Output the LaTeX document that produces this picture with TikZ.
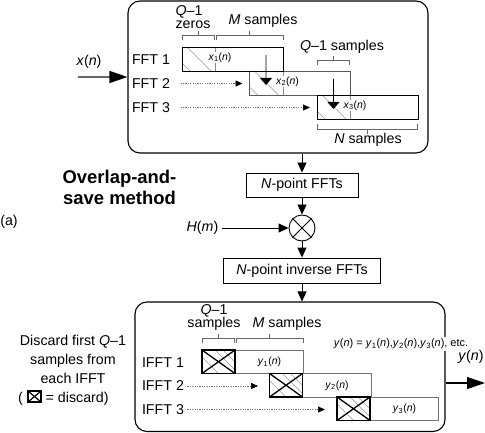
\documentclass[tikz,border=0pt]{standalone}
\usepackage{fontspec}
\setmainfont{Liberation Sans}
\usetikzlibrary{arrows.meta}
\newcommand{\sig}[2]{\textit{#1}\textsubscript{#2}(\textit{n})}

\begin{document}
\begin{tikzpicture}[
  x=1bp, y=-1bp,
  every node/.style={font=\fontsize{14.3}{16}\selectfont},
  panel/.style={draw, line width=1.1bp, rounded corners=12bp, inner sep=0pt},
  stage/.style={draw, line width=0.9bp, inner sep=0pt, minimum height=24bp},
  block/.style={draw, line width=0.9bp, inner sep=0pt, outer sep=0pt,
    minimum width=101bp, minimum height=24bp},
  discard/.style={draw, line width=1.3bp, inner sep=0pt, outer sep=0pt,
    minimum width=33bp, minimum height=23.5bp},
  tag/.style={font=\fontsize{10.5}{12}\selectfont, fill=white, inner sep=0.6bp},
  hatch/.style={black!40, line width=0.5bp},
  bracket/.style={black!60, line width=0.8bp},
  flow/.style={-{Triangle[length=10bp,width=9bp]}, line width=0.9bp},
  bigflow/.style={-{Triangle[length=18bp,width=12bp,color=black]}, line width=1.1bp},
  drop/.style={-{Triangle[length=7bp,width=12bp]}, line width=0.9bp},
  feed/.style={black!55, line width=0.7bp, dash pattern=on 1.2bp off 1.2bp,
    -{Triangle[length=7bp,width=6bp,color=black]}}
]
\useasboundingbox (0,0) rectangle (485,433);

% the two panels
\node[panel, minimum width=300bp, minimum height=152bp] (analysis) at (278,77) {};
\node[panel, minimum width=310bp, minimum height=129.5bp] (synth) at (290,366.75) {};

% input
\coordinate (xin) at (78,77);
\node (xlabel) at (89,62) {\textit{x}(\textit{n})};
\draw[bigflow, black!60] (xin) -- (analysis.west);

% overlapping FFT blocks
\foreach \i/\px/\py/\col in {2/249.5/71/black!65, 1/182/47/black, 3/317/95/black} {
  \node[anchor=west] (flab\i) at (128.5,\py+12.5) {FFT \i};
  \begin{scope}
    \clip (\px,\py) rectangle ++(33.5,24);
    \draw[hatch] (\px+5,\py) -- ++(30,30) (\px-16,\py) -- ++(30,30);
  \end{scope}
  \draw[black!45, line width=0.6bp] (\px+33.5,\py) -- ++(0,24);
  \node[block, draw=\col, anchor=north west] (blk\i) at (\px,\py) {};
  \node[tag] (x\i) at (\px+38,\py+10.5) {\sig{x}{\i}};
}
\draw[feed, shorten <=7bp, shorten >=7bp] (flab2.east) -- (flab2.east -| blk2.west);
\draw[feed, shorten <=7bp, shorten >=7bp] (flab3.east) -- (flab3.east -| blk3.west);
\draw[drop] ([xshift=33.5bp,yshift=4bp]blk1.center) -- ([xshift=-34bp,yshift=-2bp]blk2.center);
\draw[drop] ([xshift=33.5bp,yshift=4bp]blk2.center) -- ([xshift=-34bp,yshift=-2bp]blk3.center);

% brackets
\foreach \a/\b/\y in {182.5/214/35, 216/283/35, 317/349.5/60, 202/234/338, 236/303.5/338}
  \draw[bracket] (\a,\y+5) -- (\a,\y) -- (\b,\y) -- (\b,\y+5) ({(\a+\b)/2},\y) -- ++(0,-4);
\draw[bracket] (317.5,124) -- (317.5,129) -- (417.5,129) -- (417.5,124) (367.5,129) -- ++(0,5);
\node[anchor=base] (qzeros) at (189,15.3) {\textit{Q}--1};
\node[anchor=base] (zeros) at (193,28.5) {zeros};
\node[anchor=base] (msamp) at (263,25) {\textit{M} samples};
\node[anchor=base] (qsamp) at (342,50.5) {\textit{Q}--1 samples};
\node[anchor=base] (nsamp) at (368,143.5) {\textit{N} samples};
\node[anchor=base] (qsamp2) at (214,314.3) {\textit{Q}--1};
\node[anchor=base] (samp2) at (214,327.5) {samples};
\node[anchor=base] (msamp2) at (287,327.5) {\textit{M} samples};

% FFT, multiply, inverse FFT
\node[stage, minimum width=112bp] (fft) at (302,185) {\textit{N}-point FFTs};
\draw[flow] (fft.north |- analysis.south) -- (fft.north);
\node[circle, draw, line width=0.9bp, minimum size=26bp, inner sep=0pt] (mult) at (302,228) {};
\draw[line width=0.9bp] (mult.north west) -- (mult.south east) (mult.north east) -- (mult.south west);
\draw[flow] (fft) -- (mult);
\node (hlabel) at (202.5,228) {\textit{H}(\textit{m})};
\draw[flow] (hlabel) -- (mult);
\node[stage, minimum width=157bp, minimum height=25bp] (ifft) at (302,270.5) {\textit{N}-point inverse FFTs};
\draw[flow] (mult) -- (ifft);
\draw[flow] (ifft.south) -- (ifft.south |- synth.north);

% captions on the left
\node[font=\fontsize{18.5}{21}\selectfont\bfseries, align=center] (method) at (119.5,187) {Overlap-and-\\save method};
\node (parta) at (9,222) {(a)};
\node[align=center, font=\fontsize{14.3}{19}\selectfont] (note) at (73,359) {Discard first \textit{Q}--1\\samples from\\each IFFT};
\node[anchor=base] (lparen) at (20.5,402) {(};
\node[discard, minimum width=13bp, minimum height=11bp, line width=1.2bp] (key) at (34.5,396.5) {};
\draw[line width=1.2bp] (key.north west) -- (key.south east) (key.south west) -- (key.north east);
\node[anchor=base west, inner sep=0pt] (keytext) at (45.5,402) {= discard)};

% IFFT blocks with discarded parts
\foreach \i/\px/\py in {1/202/350, 2/269.5/373.5, 3/337/397} {
  \node[anchor=west] (ilab\i) at (138.5,\py+12.5) {IFFT \i};
  \begin{scope}
    \clip (\px,\py) rectangle ++(33,23.5);
    \draw[hatch] (\px-7,\py) -- ++(30,30) (\px+13,\py) -- ++(30,30) (\px+21,\py) -- ++(30,30);
  \end{scope}
  \node[block, draw=black!55, minimum width=101.5bp, minimum height=23.5bp, anchor=north west] (iblk\i) at (\px,\py) {};
  \node[discard, anchor=north west] (cut\i) at (\px,\py) {};
  \draw[line width=1.3bp] (cut\i.north west) -- (cut\i.south east) (cut\i.south west) -- (cut\i.north east);
  \node[tag] (y\i) at (\px+67.5,\py+12) {\sig{y}{\i}};
}
\draw[feed, shorten >=11.5bp] (ilab2.east) -- (ilab2.east -| iblk2.west);
\draw[feed, shorten >=12bp] (ilab3.east) -- (ilab3.east -| iblk3.west);

% output
\node[tag, font=\fontsize{11}{13}\selectfont, inner sep=2bp] (ysum) at (401,344)
  {\textit{y}(\textit{n}) = \sig{y}{1},\sig{y}{2},\sig{y}{3}, etc.};
\coordinate (yout) at (485,383);
\draw[bigflow] (yout -| synth.east) -- (yout);
\node (ylabel) at (471,357) {\textit{y}(\textit{n})};
\end{tikzpicture}
\end{document}
